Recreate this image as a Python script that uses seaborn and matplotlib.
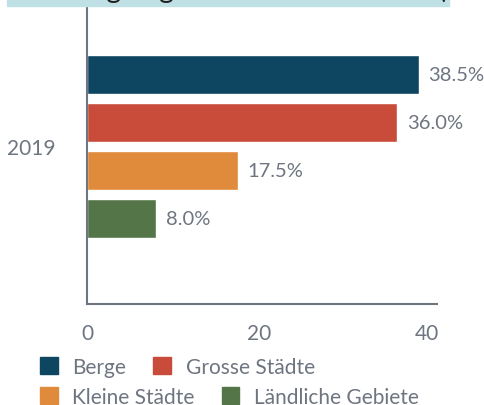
import matplotlib
matplotlib.use('Agg')
import matplotlib.pyplot as plt
import matplotlib.transforms as mtransforms
import seaborn as sns
import pandas as pd
from matplotlib.patches import Rectangle

# data
year = ['2019']
regions = ['Berge', 'Grosse Städte', 'Kleine Städte', 'Ländliche Gebiete']
shares = [38.5, 36.0, 17.5, 8.0]
colors = ['#0e4661', '#c94c3b', '#e08b3b', '#547548']
title = 'Lieblingsregionen der Reisenden (2019)'

grey = '#6e7580'

sns.set_style('white')
plt.rcParams['font.family'] = ['Lato', 'DejaVu Sans']

df = pd.DataFrame({'year': year * len(regions), 'region': regions, 'share': shares})

fig = plt.figure(figsize=(4.84, 4.06), dpi=100)
ax = fig.add_axes([87 / 484, 1 - 305 / 406, 350 / 484, 298 / 406])

sns.barplot(data=df, x='share', y='year', hue='region', palette=colors,
            orient='h', width=0.8, gap=0.19, legend=False, ax=ax, saturation=1)

for c in ax.containers:
    ax.bar_label(c, labels=[f'{v:.1f}%' for v in c.datavalues],
                 padding=7, color=grey, fontsize=14.5)

ax.set_xlim(0, 40.6)
ax.set_ylim(0.656, -0.585)
ax.set_xticks([0, 20, 40])
ax.set_xlabel('')
ax.set_ylabel('')
ax.tick_params(axis='x', length=0, pad=14, labelsize=15, labelcolor=grey)
ax.tick_params(axis='y', length=0, pad=23, labelsize=15, labelcolor=grey)
for s in ['top', 'right']:
    ax.spines[s].set_visible(False)
for s in ['left', 'bottom']:
    ax.spines[s].set_color(grey)
    ax.spines[s].set_linewidth(1.5)

# keep the last x label inside the axis end
last = ax.get_xticklabels()[-1]
last.set_transform(last.get_transform() +
                   mtransforms.ScaledTranslation(-5 / 100, 0, fig.dpi_scale_trans))

# title band, mostly cut off at the top of the image
fig.patches.append(Rectangle((7 / 484, 1 - 7 / 406), 442 / 484, 0.2,
                             transform=fig.transFigure, color='#bfe1e5', zorder=0))
fig.text(24 / 484, 1 + 2.5 / 406, title, ha='left', va='baseline',
         fontsize=20.6, color='#222222')

# legend in two flowing rows
patches = [Rectangle((0, 0), 1, 1, color=c) for c in colors]
kw = dict(ncol=2, frameon=False, fontsize=15, labelcolor=grey, handlelength=0.85,
          handleheight=0.85, handletextpad=0.7, columnspacing=1.3,
          borderpad=0, borderaxespad=0, loc='center left')
fig.legend(patches[:2], regions[:2], bbox_to_anchor=(40 / 484, 1 - 368 / 406), **kw)
fig.legend(patches[2:], regions[2:], bbox_to_anchor=(40 / 484, 1 - 398 / 406), **kw)

fig.savefig('out.png', dpi=100)
